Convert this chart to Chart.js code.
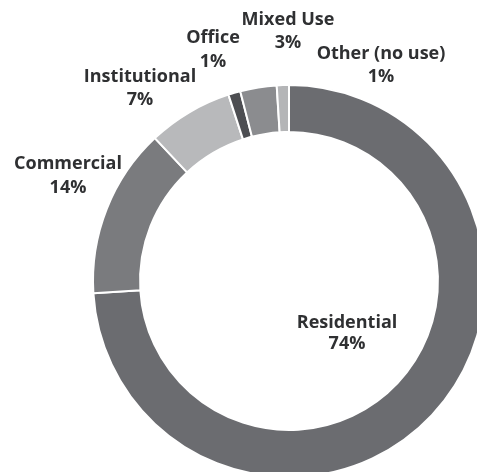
<!DOCTYPE html>
<html>
<head>
<meta charset="utf-8">
<script src="https://cdn.jsdelivr.net/npm/chart.js@4"></script>
<style>
  html, body { margin: 0; padding: 0; background: #ffffff; overflow: hidden; }
  #wrap { position: absolute; left: 0; top: 0; width: 600px; height: 600px; }
</style>
</head>
<body>
<div id="wrap"><canvas id="c" width="600" height="600"></canvas></div>
<script>
// Land use shares, clockwise from 12 o'clock
const categories = ['Residential', 'Commercial', 'Institutional', 'Office', 'Mixed Use', 'Other (no use)'];
const shares = [74, 14, 7, 1, 3, 1];
const sliceColors = ['#6b6c70', '#7a7b7e', '#b8b9bb', '#4d4e52', '#8b8c8f', '#b4b5b7'];

// Label anchors relative to the ring centre (px), plus gap between the two lines
const labelLayout = {
  'Residential':    { dx: 58,   dy: 47,   gap: 21 },
  'Commercial':     { dx: -221, dy: -112, gap: 24 },
  'Institutional':  { dx: -149, dy: -199, gap: 23 },
  'Office':         { dx: -76,  dy: -238, gap: 24 },
  'Mixed Use':      { dx: -1,   dy: -256, gap: 23 },
  'Other (no use)': { dx: 92,   dy: -222, gap: 23 }
};

const sliceLabels = {
  id: 'sliceLabels',
  afterDatasetsDraw(chart) {
    const ctx = chart.ctx;
    const meta = chart.getDatasetMeta(0);
    ctx.save();
    ctx.font = 'bold 18px "Open Sans", Lato, sans-serif';
    ctx.fillStyle = '#2f3032';
    ctx.textAlign = 'center';
    ctx.textBaseline = 'alphabetic';
    meta.data.forEach((arc, i) => {
      const name = chart.data.labels[i];
      const lay = labelLayout[name];
      const value = chart.data.datasets[0].data[i];
      const x = arc.x + lay.dx;
      const y = arc.y + lay.dy;
      ctx.fillText(name, x, y);
      ctx.fillText(value + '%', x, y + lay.gap);
    });
    ctx.restore();
  }
};

new Chart(document.getElementById('c'), {
  type: 'doughnut',
  data: {
    labels: categories,
    datasets: [{
      data: shares,
      backgroundColor: sliceColors,
      borderColor: '#ffffff',
      borderWidth: 2,
      hoverOffset: 0
    }]
  },
  options: {
    responsive: false,
    animation: false,
    events: [],
    cutout: '76%',
    rotation: 0,
    layout: { padding: { left: 92, top: 84, right: 114, bottom: 122 } },
    plugins: {
      legend: { display: false },
      tooltip: { enabled: false }
    }
  },
  plugins: [sliceLabels]
});
</script>
</body>
</html>
